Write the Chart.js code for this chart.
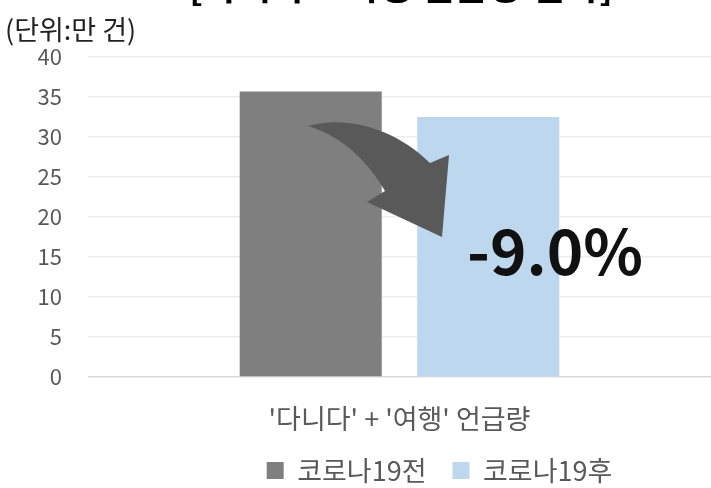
<!DOCTYPE html>
<html>
<head>
<meta charset="utf-8">
<script src="https://cdn.jsdelivr.net/npm/chart.js@4/dist/chart.umd.min.js"></script>
<style>
  html, body { margin: 0; padding: 0; background: #fff; }
  #wrap { width: 711px; height: 488px; }
</style>
</head>
<body>
<div id="wrap"><canvas id="chart"></canvas></div>
<script>
const categories = ["'다니다' + '여행' 언급량"];
const seriesNames = ["코로나19전", "코로나19후"];
const beforeValues = [35.7];
const afterValues = [32.5];
const yTicks = [0, 5, 10, 15, 20, 25, 30, 35, 40];
const changeLabel = "-9.0%";
const titleText = "[다니다 + 여행 언급량 변화]";
const unitText = "(단위:만 건)";

const FONT = "'Noto Sans CJK KR', 'Noto Sans', sans-serif";

// title (cut off at top), unit label, arrow and change text
const extras = {
  id: "extras",
  afterLayout(chart) {
    // legend sits right of centre in the original
    chart.legend.left += 84;
    chart.legend.right += 84;
  },
  afterDatasetsDraw(chart) {
    const { ctx, chartArea } = chart;
    const L = chartArea.left, T = chartArea.top;
    ctx.save();

    // curved arrow from the first bar towards the second
    const p = (dx, dy) => [L + dx, T + dy];
    ctx.fillStyle = "#595959";
    ctx.beginPath();
    ctx.moveTo(...p(220, 69));
    ctx.bezierCurveTo(...p(257, 58), ...p(307, 71), ...p(342, 106));
    ctx.lineTo(...p(361, 98));
    ctx.lineTo(...p(354, 180));
    ctx.lineTo(...p(279, 145));
    ctx.lineTo(...p(297, 134));
    ctx.bezierCurveTo(...p(282, 108), ...p(257, 80), ...p(220, 69));
    ctx.closePath();
    ctx.fill();

    ctx.fillStyle = "#111";
    ctx.font = "bold 62px " + FONT;
    ctx.textAlign = "center";
    ctx.textBaseline = "alphabetic";
    ctx.fillText(changeLabel, L + 467, T + 218);

    ctx.fillStyle = "#000";
    ctx.font = "bold 37px " + FONT;
    ctx.fillText(titleText, 401, 0);

    ctx.fillStyle = "#222";
    ctx.font = "27px " + FONT;
    ctx.textAlign = "left";
    ctx.fillText(unitText, 5, 40);
    ctx.restore();
  }
};

new Chart(document.getElementById("chart"), {
  type: "bar",
  data: {
    labels: categories,
    datasets: [
      {
        label: seriesNames[0],
        data: beforeValues,
        backgroundColor: "#7f7f7f",
        categoryPercentage: 0.57,
        barPercentage: 0.8,
      },
      {
        label: seriesNames[1],
        data: afterValues,
        backgroundColor: "#bdd7ee",
        categoryPercentage: 0.57,
        barPercentage: 0.8,
      },
    ],
  },
  options: {
    responsive: true,
    maintainAspectRatio: false,
    animation: false,
    layout: { padding: { top: 57, right: 0, left: 0, bottom: -6 } },
    plugins: {
      title: { display: false },
      tooltip: { enabled: false },
      legend: {
        position: "bottom",
        labels: {
          boxWidth: 17,
          boxHeight: 17,
          padding: 26,
          color: "#595959",
          font: { family: FONT, size: 27 },
        },
      },
    },
    scales: {
      x: {
        grid: { display: false, drawTicks: false },
        border: { display: false },
        afterFit: (axis) => {
          axis.height = 54;
        },
        ticks: {
          padding: 26,
          color: "#595959",
          font: { family: FONT, size: 27 },
        },
      },
      y: {
        min: 0,
        max: 40,
        afterBuildTicks: (axis) => {
          axis.ticks = yTicks.map((v) => ({ value: v }));
        },
        afterFit: (axis) => {
          axis.width = 88;
        },
        border: { display: false },
        grid: {
          drawTicks: false,
          color: (c) => (c.tick && c.tick.value === 0 ? "#d9d9d9" : "#eeeeee"),
          lineWidth: 1.5,
        },
        ticks: {
          padding: 26,
          color: "#595959",
          font: { family: FONT, size: 22 },
        },
      },
    },
  },
  plugins: [extras],
});
</script>
</body>
</html>
